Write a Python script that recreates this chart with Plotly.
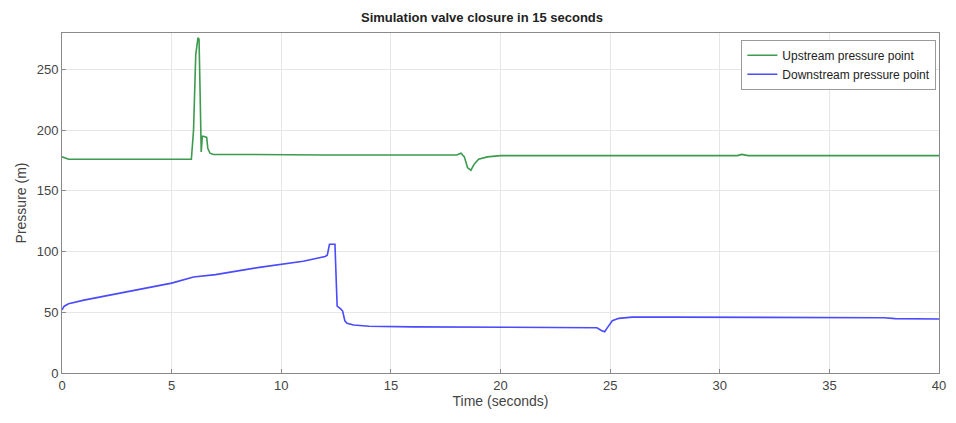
import plotly.graph_objects as go

# Upstream pressure point (time s, pressure m)
up_t = [0, 0.15, 0.3, 2, 4, 5.9, 6.0, 6.1, 6.2, 6.25, 6.3, 6.35, 6.4, 6.45, 6.6, 6.65, 6.75, 6.9, 8, 10, 12, 14, 16, 18.0, 18.2, 18.35, 18.5, 18.65, 18.8, 19.0, 19.4, 20, 25, 30, 30.8, 31.0, 31.3, 35, 40]
up_p = [178, 177, 176, 176, 176, 176, 200, 262, 276, 275, 230, 182, 195, 195, 194, 185, 181, 180, 180, 179.5, 179.5, 179.5, 179.5, 179.5, 181, 178, 169, 167, 172, 176, 178, 179, 179, 179, 179, 180, 179, 179, 179]

# Downstream pressure point
dn_t = [0, 0.1, 0.3, 1, 3, 5, 6, 7, 9, 11, 12.0, 12.1, 12.2, 12.45, 12.5, 12.55, 12.7, 12.8, 12.9, 13.0, 13.3, 14, 16, 18, 20, 22, 24.4, 24.6, 24.75, 24.9, 25.1, 25.4, 26, 28, 30, 32, 34, 36, 37.5, 38, 40]
dn_p = [52, 55, 57, 60, 67, 74, 79, 81, 87, 92, 96, 97, 106, 106, 80, 55, 53, 51, 43, 41, 39.5, 38.5, 38, 37.8, 37.7, 37.5, 37.3, 35, 34, 38, 43, 45, 46, 46, 46, 46, 45.8, 45.5, 45.5, 44.8, 44.5]

fig = go.Figure()
fig.add_trace(go.Scatter(x=up_t, y=up_p, mode="lines", name="Upstream pressure point",
                         line=dict(color="#3d9b4f", width=1.6)))
fig.add_trace(go.Scatter(x=dn_t, y=dn_p, mode="lines", name="Downstream pressure point",
                         line=dict(color="#4a4aff", width=1.6)))

axis_common = dict(showgrid=True, gridcolor="#e6e6e6", gridwidth=1, showline=True, linecolor="#8a8a8a",
                   linewidth=1, mirror=True, ticks="inside", ticklen=4, tickcolor="#8a8a8a",
                   zeroline=False, automargin=False, tickfont=dict(size=13, color="#444"))

fig.update_layout(
    width=948, height=415,
    paper_bgcolor="white", plot_bgcolor="white",
    margin=dict(l=54, r=17, t=25, b=50),
    font=dict(family="Liberation Sans, Arial, sans-serif", color="#333"),
    title=dict(text="<b>Simulation valve closure in 15 seconds</b>", x=0.5, xanchor="center",
               y=0.988, yanchor="top", font=dict(size=13, color="#222")),
    xaxis=dict(range=[0, 40], dtick=5, title=dict(text="Time (seconds)", standoff=2,
               font=dict(size=14, color="#444")), **axis_common),
    yaxis=dict(range=[0, 280], dtick=50, title=dict(text="Pressure (m)", standoff=6,
               font=dict(size=14, color="#444")), **axis_common),
    legend=dict(x=0.997, y=0.98, xanchor="right", yanchor="top", bgcolor="white",
                bordercolor="#9a9a9a", borderwidth=1, font=dict(size=12, color="#222"),
                tracegroupgap=0, itemwidth=30),
    showlegend=True,
)
fig.write_html("out.html")
